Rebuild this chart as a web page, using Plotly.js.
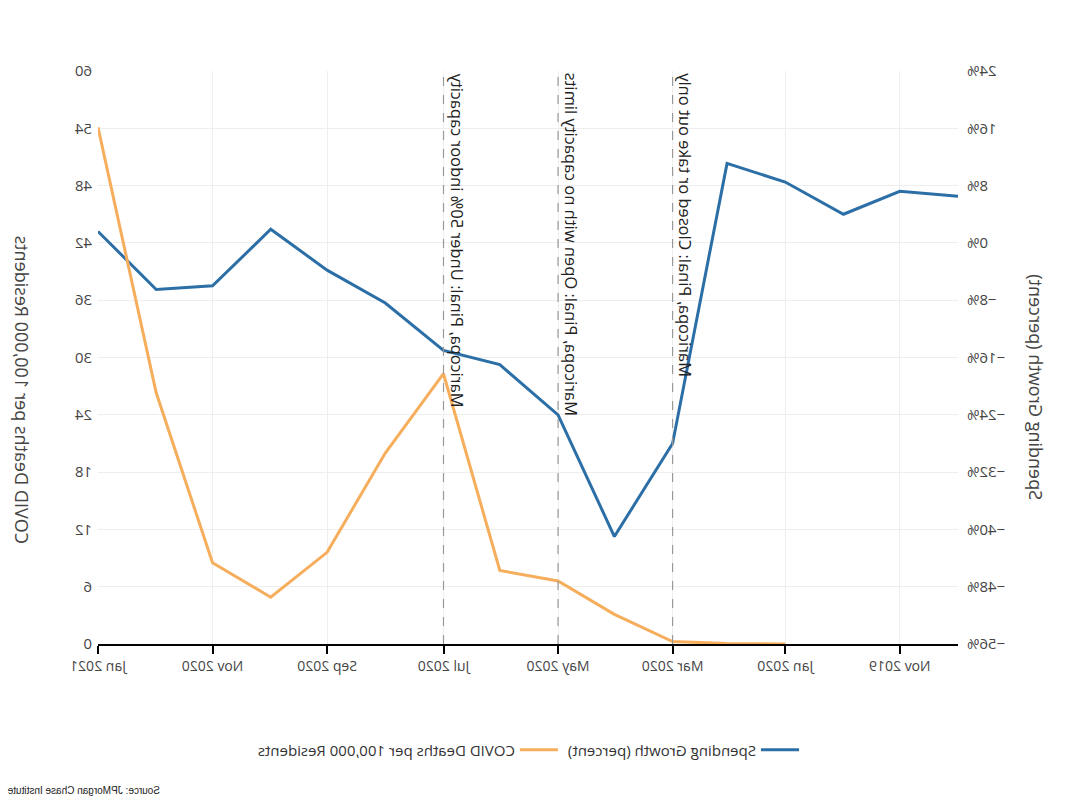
<!DOCTYPE html>
<html>
<head>
<meta charset="utf-8">
<script src="https://cdn.plot.ly/plotly-3.0.1.min.js"></script>
<style>
  html, body { margin: 0; padding: 0; background: #fff; }
  #chart { width: 1067px; height: 801px; transform: scaleX(-1); transform-origin: center center; }
</style>
</head>
<body>
<div id="chart"></div>
<script>
// Monthly spending growth (percent)
var spendDates = ["2019-10-01","2019-11-01","2019-12-01","2020-01-01","2020-02-01","2020-03-01","2020-04-01","2020-05-01","2020-06-01","2020-07-01","2020-08-01","2020-09-01","2020-10-01","2020-11-01","2020-12-01","2021-01-01"];
var spendValues = [6.5, 7.2, 4.0, 8.5, 11.1, -28.0, -41.0, -24.0, -17.0, -15.0, -8.4, -3.8, 1.9, -6.0, -6.5, 1.6];

// COVID deaths per 100,000 residents
var deathDates = ["2020-01-01","2020-02-01","2020-03-01","2020-04-01","2020-05-01","2020-06-01","2020-07-01","2020-08-01","2020-09-01","2020-10-01","2020-11-01","2020-12-01","2021-01-01"];
var deathValues = [0, 0.05, 0.25, 3.1, 6.6, 7.7, 28.3, 20.0, 9.6, 4.9, 8.5, 26.3, 54.1];

// Policy events
var eventDates = ["2020-03-01", "2020-05-01", "2020-07-01"];
var eventLabels = ["Maricopa, Pinal: Closed or take out only", "Maricopa, Pinal: Open with no capacity limits", "Maricopa, Pinal: Under 50% indoor capacity"];

var seriesNames = ["Spending Growth (percent)", "COVID Deaths per 100,000 Residents"];
var sourceText = "Source: JPMorgan Chase Institute";

var traces = [
  { x: spendDates, y: spendValues, name: seriesNames[0], type: "scatter", mode: "lines",
    line: { color: "#2c6fa7", width: 3 }, yaxis: "y" },
  { x: deathDates, y: deathValues, name: seriesNames[1], type: "scatter", mode: "lines",
    line: { color: "#f6ae5c", width: 3 }, yaxis: "y2" }
];

var shapes = eventDates.map(function (d) {
  return { type: "line", xref: "x", yref: "paper", x0: d, x1: d, y0: 0, y1: 1,
           line: { color: "#999", width: 1.2, dash: "dash" } };
});

var annotations = eventDates.map(function (d, i) {
  return { x: d, xref: "x", y: 1, yref: "paper", text: eventLabels[i], showarrow: false,
           textangle: -90, xanchor: "right", yanchor: "top",
           font: { family: "Open Sans, sans-serif", size: 16.5, color: "#222" } };
});
// Axis titles (placed as rotated text beside each axis)
annotations.push({ x: -0.0907, xref: "paper", y: 0.4485, yref: "paper", text: seriesNames[0],
  showarrow: false, textangle: -90, xanchor: "center", yanchor: "middle",
  font: { family: "Open Sans, sans-serif", size: 18, color: "#444" } });
annotations.push({ x: 1.0884, xref: "paper", y: 0.4433, yref: "paper", text: seriesNames[1],
  showarrow: false, textangle: -90, xanchor: "center", yanchor: "middle",
  font: { family: "Open Sans, sans-serif", size: 18, color: "#444" } });
annotations.push({ x: 1.108, xref: "paper", y: -0.2565, yref: "paper", text: sourceText,
  showarrow: false, xanchor: "right", yanchor: "middle",
  font: { family: "Liberation Sans Narrow, Arial Narrow, Liberation Sans, sans-serif", size: 10, color: "#222" } });

var layout = {
  width: 1067, height: 801,
  margin: { l: 109, r: 98, t: 71, b: 157 },
  paper_bgcolor: "#fff", plot_bgcolor: "#fff",
  font: { family: "Open Sans, sans-serif", color: "#444", size: 14 },
  showlegend: true,
  legend: { orientation: "h", x: 0.5, xanchor: "center", y: -0.185, yanchor: "middle",
            itemwidth: 38,
            font: { family: "Open Sans, sans-serif", size: 15, color: "#333" } },
  xaxis: { type: "date", range: ["2019-10-01", "2021-01-01"], dtick: "M2", tick0: "2019-11-01",
           tickformat: "%b %Y", showgrid: true, gridcolor: "#eee", showline: true, linecolor: "#000",
           linewidth: 2, ticks: "outside", ticklen: 8, tickwidth: 2, tickcolor: "#000", zeroline: false,
           tickfont: { size: 14 } },
  yaxis: { range: [-56, 24], dtick: 8, tick0: -56, ticksuffix: "%", showgrid: true, gridcolor: "#eee",
           zeroline: false, ticklabelstandoff: 8, tickfont: { size: 15 } },
  yaxis2: { range: [0, 60], dtick: 6, tick0: 0, overlaying: "y", side: "right", showgrid: false,
            zeroline: false, ticklabelstandoff: 5, tickfont: { size: 15 } },
  shapes: shapes,
  annotations: annotations
};

Plotly.newPlot("chart", traces, layout, { displayModeBar: false, staticPlot: true });
</script>
</body>
</html>
